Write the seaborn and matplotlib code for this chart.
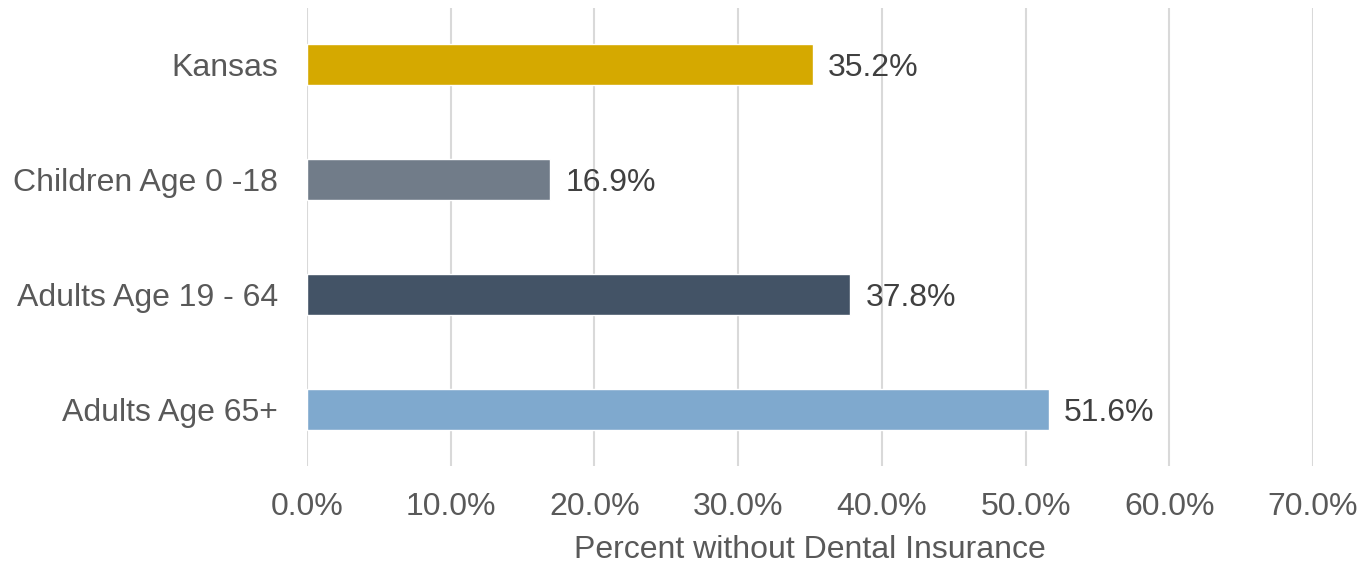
import matplotlib
matplotlib.use("Agg")
import matplotlib.pyplot as plt
import seaborn as sns
import pandas as pd
from matplotlib.ticker import FuncFormatter

categories = ["Kansas", "Children Age 0 -18", "Adults Age 19 - 64", "Adults Age 65+"]
values = [35.2, 16.9, 37.8, 51.6]
colors = ["#D5A900", "#717C89", "#435366", "#7FA9CE"]
xticks = [0, 10, 20, 30, 40, 50, 60, 70]

sns.set_theme(style="white")
plt.rcParams["font.family"] = ["Liberation Sans", "DejaVu Sans"]

df = pd.DataFrame({"cat": categories, "val": values})

fig = plt.figure(figsize=(13.63, 5.64), dpi=100)
ax = fig.add_axes([307 / 1363, 1 - 466 / 564, (1313 - 307) / 1363, 458 / 564])

sns.barplot(data=df, x="val", y="cat", hue="cat", palette=colors, order=categories,
            hue_order=categories, width=0.357, legend=False, ax=ax, saturation=1, zorder=3)

ax.set_xlim(0, 70)
ax.set_ylim(3.49, -0.49)
ax.set_xticks(xticks)
ax.xaxis.set_major_formatter(FuncFormatter(lambda v, p: f"{v:.1f}%"))
ax.grid(axis="x", color="#D9D9D9", linewidth=1.5, zorder=0)
ax.grid(axis="y", visible=False)
for s in ax.spines.values():
    s.set_visible(False)
ax.tick_params(axis="both", length=0, labelsize=23, labelcolor="#595959")
ax.tick_params(axis="x", pad=19)
ax.tick_params(axis="y", pad=21)
ax.set_ylabel("")
ax.set_xlabel("Percent without Dental Insurance", fontsize=23, color="#595959", labelpad=9)

for c in ax.containers:
    for bar, v in zip(c.patches, c.datavalues):
        ax.annotate(f"{v:.1f}%", xy=(bar.get_x() + bar.get_width(), bar.get_y() + bar.get_height() / 2),
                    xytext=(11, -2.5), textcoords="offset points", ha="left", va="center",
                    fontsize=23, color="#404040")

fig.savefig("out.png", dpi=100)
